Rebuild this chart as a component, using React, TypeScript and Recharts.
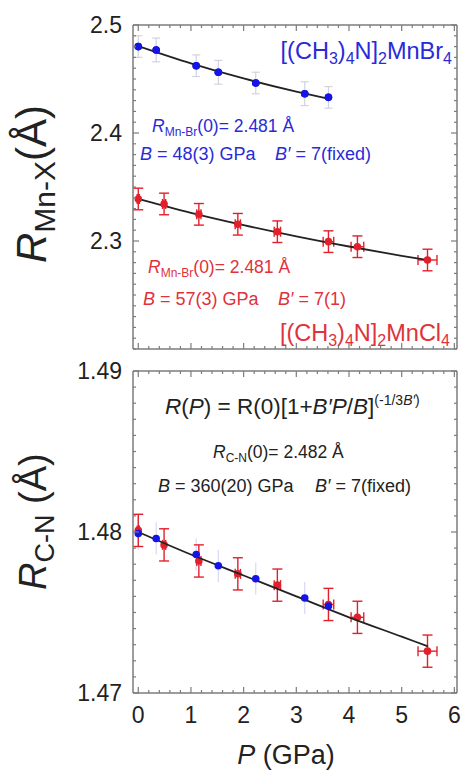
import React from 'react';
import { ComposedChart, Scatter, XAxis, YAxis, ErrorBar } from 'recharts';

const FONT = '"Liberation Sans", Arial, Helvetica, sans-serif';
const BLUE = '#1414e6';
const BLUE_TXT = '#2a2ad8';
const RED = '#e2202c';
const RED_TXT = '#e0323c';
const FRAME = '#7c7c7c';
const INK = '#222';

// [(CH3)4N]2MnBr4 data (blue)
const pBr = [0.0, 0.34, 1.1, 1.52, 2.23, 3.16, 3.61];
const rBrMnX = [2.48, 2.4769, 2.4623, 2.4562, 2.4463, 2.4364, 2.433];
const eBrMnX = [0.01, 0.011, 0.01, 0.011, 0.01, 0.011, 0.01];
const rBrCN = [1.4799, 1.4796, 1.4786, 1.4779, 1.4771, 1.4759, 1.4754];
const eBrCN = [0.001, 0.001, 0.001, 0.001, 0.001, 0.001, 0.001];

// [(CH3)4N]2MnCl4 data (red)
const pCl = [0.0, 0.49, 1.15, 1.89, 2.64, 3.61, 4.16, 5.49];
const ePCl = [0.02, 0.03, 0.04, 0.05, 0.06, 0.1, 0.12, 0.18];
const rClMnX = [2.3389, 2.3343, 2.3247, 2.3155, 2.3086, 2.2994, 2.2947, 2.2824];
const eClMnX = [0.01, 0.01, 0.01, 0.01, 0.01, 0.01, 0.01, 0.01];
const rClCN = [1.4801, 1.4792, 1.4782, 1.4774, 1.4767, 1.4755, 1.4747, 1.4726];
const eClCN = [0.001, 0.001, 0.001, 0.001, 0.001, 0.001, 0.001, 0.001];

// fitted curves
const fitBrP = [0, 1, 2, 3, 3.62];
const fitBrR = [2.4805, 2.4645, 2.4505, 2.4383, 2.4315];
const fitClP = [0, 1, 2, 3, 4, 5, 5.5];
const fitClR = [2.339, 2.3261, 2.3147, 2.3043, 2.2949, 2.2863, 2.2822];
const fitCNP = [0, 1, 2, 3, 4, 5, 5.5];
const fitCNR = [1.48, 1.4786, 1.4773, 1.476, 1.4747, 1.4735, 1.4729];

// axes
const xMajor = [0, 1, 2, 3, 4, 5, 6];
const yTopMajor = [2.3, 2.4, 2.5];
const yBotMajor = [1.47, 1.48, 1.49];
const X_DOMAIN = [-0.1, 6.05];
const Y_TOP_DOMAIN = [2.2, 2.5];
const Y_BOT_DOMAIN = [1.47, 1.49];

const steps = (a: number, b: number, step: number) => {
  const out: number[] = [];
  const n = Math.round((b - a) / step);
  for (let i = 0; i <= n; i++) out.push(Math.round((a + i * step) * 1e6) / 1e6);
  return out;
};
const xTicks = steps(0, 6, 0.2);
const yTopTicks = steps(2.2, 2.5, 0.01);
const yBotTicks = steps(1.47, 1.49, 0.001);

const near = (v: number, list: number[]) => list.some((m) => Math.abs(m - v) < 1e-7);

const rows = (p: number[], r: number[], ey?: number[], ex?: number[]) =>
  p.map((v, i) => ({ p: v, r: r[i], ey: ey ? ey[i] : 0, ex: ex ? ex[i] : 0 }));

const dot = (color: string, r = 3.8) => (props: any) =>
  <circle cx={props.cx} cy={props.cy} r={r} fill={color} />;
const noDot = () => <g />;

const makeTick = (side: 'bottom' | 'top' | 'left' | 'right', major: number[], label?: (v: number) => string) =>
  (props: any) => {
    const { x, y, payload } = props;
    const isMajor = near(payload.value, major);
    const len = isMajor ? 6 : 3;
    let line;
    if (side === 'bottom') line = <line x1={x} x2={x} y1={y} y2={y - len} />;
    else if (side === 'top') line = <line x1={x} x2={x} y1={y} y2={y + len} />;
    else if (side === 'left') line = <line x1={x} x2={x + len} y1={y} y2={y} />;
    else line = <line x1={x} x2={x - len} y1={y} y2={y} />;
    return (
      <g>
        <g stroke={FRAME} strokeWidth={1.2}>{line}</g>
        {label && isMajor && side === 'bottom' && (
          <text x={x} y={y + 30} textAnchor="middle" fontSize={23} fontFamily={FONT} fill={INK}>{label(payload.value)}</text>
        )}
        {label && isMajor && side === 'left' && (
          <text x={x - 11} y={y + 8} textAnchor="end" fontSize={23} fontFamily={FONT} fill={INK}>{label(payload.value)}</text>
        )}
      </g>
    );
  };

const axisLine = { stroke: FRAME, strokeWidth: 1.5 };

function Frame({ yDomain, yTicks, yMajor, yFmt, xLabels }: any) {
  return [
    <XAxis key="xb" xAxisId="b" type="number" dataKey="p" orientation="bottom" domain={X_DOMAIN} ticks={xTicks}
      interval={0} allowDataOverflow height={1} tickSize={0} tickMargin={0} tickLine={false} axisLine={axisLine}
      tick={makeTick('bottom', xMajor, xLabels ? (v) => String(v) : undefined)} />,
    <XAxis key="xt" xAxisId="t" type="number" dataKey="p" orientation="top" domain={X_DOMAIN} ticks={xTicks}
      interval={0} allowDataOverflow height={1} tickSize={0} tickMargin={0} tickLine={false} axisLine={axisLine}
      tick={makeTick('top', xMajor)} />,
    <YAxis key="yl" yAxisId="l" type="number" dataKey="r" orientation="left" domain={yDomain} ticks={yTicks}
      interval={0} allowDataOverflow width={1} tickSize={0} tickMargin={0} tickLine={false} axisLine={axisLine}
      tick={makeTick('left', yMajor, yFmt)} />,
    <YAxis key="yr" yAxisId="r" type="number" dataKey="r" orientation="right" domain={yDomain} ticks={yTicks}
      interval={0} allowDataOverflow width={1} tickSize={0} tickMargin={0} tickLine={false} axisLine={axisLine}
      tick={makeTick('right', yMajor)} />,
  ];
}

function TopPanel() {
  return (
    <ComposedChart width={464} height={360} margin={{ top: 24, right: 6, bottom: 10, left: 132 }}>
      {Frame({ yDomain: Y_TOP_DOMAIN, yTicks: yTopTicks, yMajor: yTopMajor, yFmt: (v: number) => v.toFixed(1), xLabels: false })}
      <Scatter xAxisId="b" yAxisId="l" data={rows(pBr, rBrMnX, eBrMnX)} dataKey="r" shape={dot(BLUE)} isAnimationActive={false}>
        <ErrorBar dataKey="ey" direction="y" width={4} stroke="#d2d2de" strokeWidth={1.2} />
      </Scatter>
      <Scatter xAxisId="b" yAxisId="l" data={rows(fitBrP, fitBrR)} dataKey="r" shape={noDot}
        line={{ stroke: INK, strokeWidth: 1.8 }} lineJointType="monotoneX" isAnimationActive={false} />
      <Scatter xAxisId="b" yAxisId="l" data={rows(fitClP, fitClR)} dataKey="r" shape={noDot}
        line={{ stroke: INK, strokeWidth: 1.8 }} lineJointType="monotoneX" isAnimationActive={false} />
      <Scatter xAxisId="b" yAxisId="l" data={rows(pBr, rBrMnX)} dataKey="r" shape={dot(BLUE)} isAnimationActive={false} />
      <Scatter xAxisId="b" yAxisId="l" data={rows(pCl, rClMnX, eClMnX, ePCl)} dataKey="r" shape={dot(RED)} isAnimationActive={false}>
        <ErrorBar dataKey="ey" direction="y" width={5} stroke={RED} strokeWidth={1.4} />
        <ErrorBar dataKey="ex" direction="x" width={5} stroke={RED} strokeWidth={1.4} />
      </Scatter>
    </ComposedChart>
  );
}

function BottomPanel() {
  return (
    <ComposedChart width={464} height={432} margin={{ top: 30, right: 6, bottom: 78, left: 132 }}>
      {Frame({ yDomain: Y_BOT_DOMAIN, yTicks: yBotTicks, yMajor: yBotMajor, yFmt: (v: number) => v.toFixed(2), xLabels: true })}
      <Scatter xAxisId="b" yAxisId="l" data={rows(pBr, rBrCN, eBrCN)} dataKey="r" shape={noDot} isAnimationActive={false}>
        <ErrorBar dataKey="ey" direction="y" width={0} stroke="#d6d9f6" strokeWidth={1.2} />
      </Scatter>
      <Scatter xAxisId="b" yAxisId="l" data={rows(pCl, rClCN, eClCN, ePCl)} dataKey="r" shape={dot(RED)} isAnimationActive={false}>
        <ErrorBar dataKey="ey" direction="y" width={5} stroke={RED} strokeWidth={1.4} />
        <ErrorBar dataKey="ex" direction="x" width={5} stroke={RED} strokeWidth={1.4} />
      </Scatter>
      <Scatter xAxisId="b" yAxisId="l" data={rows(fitCNP, fitCNR)} dataKey="r" shape={noDot}
        line={{ stroke: INK, strokeWidth: 1.8 }} lineJointType="monotoneX" isAnimationActive={false} />
      <Scatter xAxisId="b" yAxisId="l" data={rows(pBr, rBrCN)} dataKey="r" shape={dot(BLUE)} isAnimationActive={false} />
    </ComposedChart>
  );
}

function Labels() {
  const sub = { fontSize: 12 };
  return (
    <svg width={464} height={772} style={{ position: 'absolute', left: 0, top: 0, pointerEvents: 'none' }}
      fontFamily={FONT}>
      {/* axis titles */}
      <text transform="translate(46,263) rotate(-90)" fill={INK}>
        <tspan fontSize={42} fontStyle="italic">R</tspan>
        <tspan fontSize={30} dy={9}>Mn-X</tspan>
        <tspan fontSize={42} dy={-9}>(Å)</tspan>
      </text>
      <text transform="translate(46,590) rotate(-90)" fill={INK}>
        <tspan fontSize={38} fontStyle="italic">R</tspan>
        <tspan fontSize={27} dy={8}>C-N</tspan>
        <tspan fontSize={38} dy={-8}> (Å)</tspan>
      </text>
      <text x={286} y={764} textAnchor="middle" fontSize={27} fill={INK}>
        <tspan fontStyle="italic">P</tspan> (GPa)
      </text>

      {/* blue annotations */}
      <text x={452} y={59} textAnchor="end" fontSize={23.5} fill={BLUE_TXT}>
        [(CH<tspan fontSize={16} dy={5}>3</tspan><tspan dy={-5}>)</tspan><tspan fontSize={16} dy={5}>4</tspan><tspan dy={-5}>N]</tspan><tspan fontSize={16} dy={5}>2</tspan><tspan dy={-5}>MnBr</tspan><tspan fontSize={16} dy={5}>4</tspan>
      </text>
      <text x={152} y={132} fontSize={17.5} fill={BLUE_TXT}>
        <tspan fontStyle="italic">R</tspan><tspan {...sub} dy={4}>Mn-Br</tspan><tspan dy={-4}>(0)= 2.481 Å</tspan>
      </text>
      <text x={140} y={160} fontSize={18} fill={BLUE_TXT}>
        <tspan fontStyle="italic">B</tspan> = 48(3) GPa
      </text>
      <text x={275} y={160} fontSize={18} fill={BLUE_TXT}>
        <tspan fontStyle="italic">B′</tspan> = 7(fixed)
      </text>

      {/* red annotations */}
      <text x={148} y={273} fontSize={17.5} fill={RED_TXT}>
        <tspan fontStyle="italic">R</tspan><tspan {...sub} dy={4}>Mn-Br</tspan><tspan dy={-4}>(0)= 2.481 Å</tspan>
      </text>
      <text x={143} y={305} fontSize={18} fill={RED_TXT}>
        <tspan fontStyle="italic">B</tspan> = 57(3) GPa
      </text>
      <text x={278} y={305} fontSize={18} fill={RED_TXT}>
        <tspan fontStyle="italic">B′</tspan> = 7(1)
      </text>
      <text x={450} y={341} textAnchor="end" fontSize={23.5} fill={RED_TXT}>
        [(CH<tspan fontSize={16} dy={5}>3</tspan><tspan dy={-5}>)</tspan><tspan fontSize={16} dy={5}>4</tspan><tspan dy={-5}>N]</tspan><tspan fontSize={16} dy={5}>2</tspan><tspan dy={-5}>MnCl</tspan><tspan fontSize={16} dy={5}>4</tspan>
      </text>

      {/* bottom panel annotations */}
      <text x={165} y={414} fontSize={22.5} fill={INK}>
        <tspan fontStyle="italic">R</tspan>(<tspan fontStyle="italic">P</tspan>) = R(0)[1+<tspan fontStyle="italic">B′P</tspan>/<tspan fontStyle="italic">B</tspan>]<tspan fontSize={14} dy={-9}>(-1/3</tspan><tspan fontSize={14} fontStyle="italic">B′</tspan><tspan fontSize={14}>)</tspan>
      </text>
      <text x={213} y={458} fontSize={17.5} fill={INK}>
        <tspan fontStyle="italic">R</tspan><tspan {...sub} dy={4}>C-N</tspan><tspan dy={-4}>(0)= 2.482 Å</tspan>
      </text>
      <text x={158} y={492} fontSize={18} fill={INK}>
        <tspan fontStyle="italic">B</tspan> = 360(20) GPa
      </text>
      <text x={315} y={492} fontSize={18} fill={INK}>
        <tspan fontStyle="italic">B′</tspan> = 7(fixed)
      </text>
    </svg>
  );
}

export default function App() {
  return (
    <div style={{ position: 'absolute', left: 0, top: 0, width: 464, height: 772, background: '#fff', fontFamily: FONT }}>
      <div style={{ position: 'absolute', left: 0, top: 0 }}>
        <TopPanel />
      </div>
      <div style={{ position: 'absolute', left: 0, top: 340 }}>
        <BottomPanel />
      </div>
      <Labels />
    </div>
  );
}
